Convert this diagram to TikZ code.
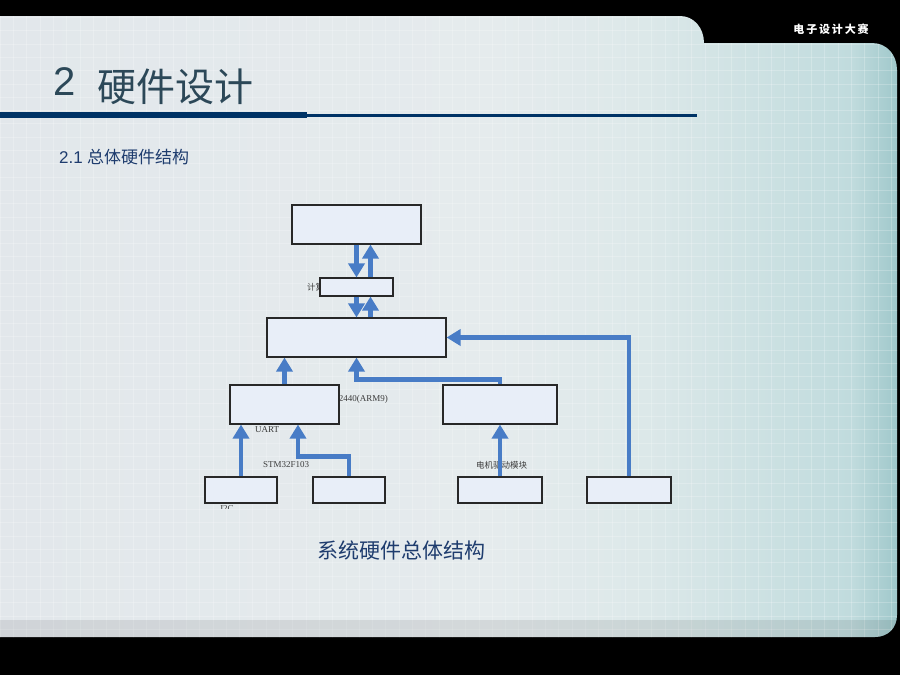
\documentclass[tikz,border=0pt]{standalone}
\usepackage{fontspec}
\setmainfont{Liberation Serif}
\newfontfamily\cjk{Noto Sans CJK SC}
\newfontfamily\sansf{Liberation Sans}
\usetikzlibrary{arrows.meta}
\definecolor{panL}{RGB}{226,231,235}
\definecolor{panM}{RGB}{229,235,237}
\definecolor{panR0}{RGB}{220,232,233}
\definecolor{panR1}{RGB}{192,219,221}
\definecolor{panR}{RGB}{160,200,203}
\definecolor{titlecol}{RGB}{44,72,88}
\definecolor{navy}{RGB}{0,51,102}
\definecolor{subcol}{RGB}{30,60,110}
\definecolor{boxfill}{RGB}{232,238,248}
\definecolor{boxline}{RGB}{40,40,40}
\definecolor{arrcol}{RGB}{72,124,198}
\definecolor{lblcol}{RGB}{60,60,60}
\pgfdeclarehorizontalshading{panelshade}{100bp}{color(0bp)=(panL); color(25bp)=(panL); color(52.5bp)=(panM); color(61bp)=(panR0); color(72.5bp)=(panR1); color(75bp)=(panR); color(100bp)=(panR)}
\tikzset{
  blk/.style={draw=boxline, line width=1.1pt, fill=boxfill, inner sep=0pt},
  arr/.style={draw=arrcol, line width=4.5pt, -{Triangle[width=16pt,length=14pt]}},
  lbl/.style={text=lblcol, inner sep=0pt, font=\fontsize{9}{10}\selectfont},
  lblc/.style={text=lblcol, inner sep=0pt, font=\cjk\fontsize{8.5}{10}\selectfont}
}
\begin{document}
\begin{tikzpicture}[x=1pt,y=-1pt]
\useasboundingbox (0,0) rectangle (900,675);
\fill[black] (0,0) rectangle (900,675);
% panel
\def\panelpath{(0,16) -- (680,16) .. controls (694,16) and (704,28) .. (704,43) -- (872,43) .. controls (887,43) and (897,55) .. (897,70) -- (897,615) .. controls (897,628) and (888,637) .. (875,637) -- (0,637) -- cycle}
\shade[shading=panelshade] \panelpath;
\begin{scope}
  \clip \panelpath;
  \foreach \gx in {0,13.3,...,900} {\draw[white,opacity=0.22,line width=0.5pt] (\gx,0) -- (\gx,675);}
  \foreach \gy in {4,17.3,...,675} {\draw[white,opacity=0.22,line width=0.5pt] (0,\gy) -- (900,\gy);}
  \fill[black,opacity=0.08] (0,620) rectangle (900,637);
\end{scope}
% header text
\node[anchor=center, text=white, inner sep=0pt, font=\cjk\bfseries\fontsize{11}{12}\selectfont] (hdr) at (831,29) {电\,子\,设\,计\,大\,赛};
\node[anchor=west, text=titlecol, inner sep=0pt, font=\sansf\fontsize{40}{44}\selectfont] (tnum) at (53,82) {2};
\node[anchor=west, text=titlecol, inner sep=0pt, font=\cjk\fontsize{39}{44}\selectfont] (ttxt) at (97,87) {硬件设计};
\fill[navy] (0,112) rectangle (307,118);
\fill[navy] (307,114) rectangle (697,116.5);
\node[anchor=west, text=subcol, inner sep=0pt, font=\fontsize{17}{20}\selectfont] (sub) at (59,157) {{\sansf 2.1} {\cjk 总体硬件结构}};
% labels hidden partly behind boxes
\node[lblc, anchor=west] (lblB) at (307,287) {计算机（远程控制）};
\node[lbl, anchor=east] (lblD) at (388,399) {S3C2440(ARM9)};
\begin{scope}
  \clip (190,150) rectangle (700,508.5);
  \node[lbl, anchor=north] (lblI) at (227,505) {I2C};
\end{scope}
% boxes
\node[blk, minimum width=129pt, minimum height=39pt] (A) at (356.5,224.5) {};
\node[blk, minimum width=73pt, minimum height=18pt] (B) at (356.5,287) {};
\node[blk, minimum width=179pt, minimum height=39pt] (C) at (356.5,337.5) {};
\node[blk, minimum width=109pt, minimum height=39pt] (D) at (284.5,404.5) {};
\node[blk, minimum width=114pt, minimum height=39pt] (E) at (500,404.5) {};
\node[blk, minimum width=72pt, minimum height=26pt] (F1) at (241,490) {};
\node[blk, minimum width=72pt, minimum height=26pt] (F2) at (349,490) {};
\node[blk, minimum width=84pt, minimum height=26pt] (F3) at (500,490) {};
\node[blk, minimum width=84pt, minimum height=26pt] (F4) at (629,490) {};
% other labels
\node[lbl, anchor=west] (lblU) at (255,430) {UART};
\node[lbl, anchor=west] (lblS) at (263,465) {STM32F103};
\node[lblc, anchor=west] (lblM) at (476,465) {电机驱动模块};
% arrows
\draw[arr] (A.south) -- (B.north);
\draw[arr] ([xshift=14pt]B.north) -- ([xshift=14pt]A.south);
\draw[arr] (B.south) -- (C.north);
\draw[arr] ([xshift=14pt]C.north) -- ([xshift=14pt]B.south);
\draw[arr] (D.north) -- (D.north |- C.south);
\draw[arr] (E.north) -- ++(0,-5) -| (C.south);
\draw[arr] (F4.north) |- (C.east);
\draw[arr] (F1.north) -- (F1.north |- D.south);
\draw[arr] (F2.north) -- ++(0,-20) -| ([xshift=13.5pt]D.south);
\draw[arr] (F3.north) -- (E.south);
% caption
\node[anchor=center, text=subcol, inner sep=0pt, font=\cjk\fontsize{21}{24}\selectfont] (cap) at (401,550) {系统硬件总体结构};
\end{tikzpicture}
\end{document}
